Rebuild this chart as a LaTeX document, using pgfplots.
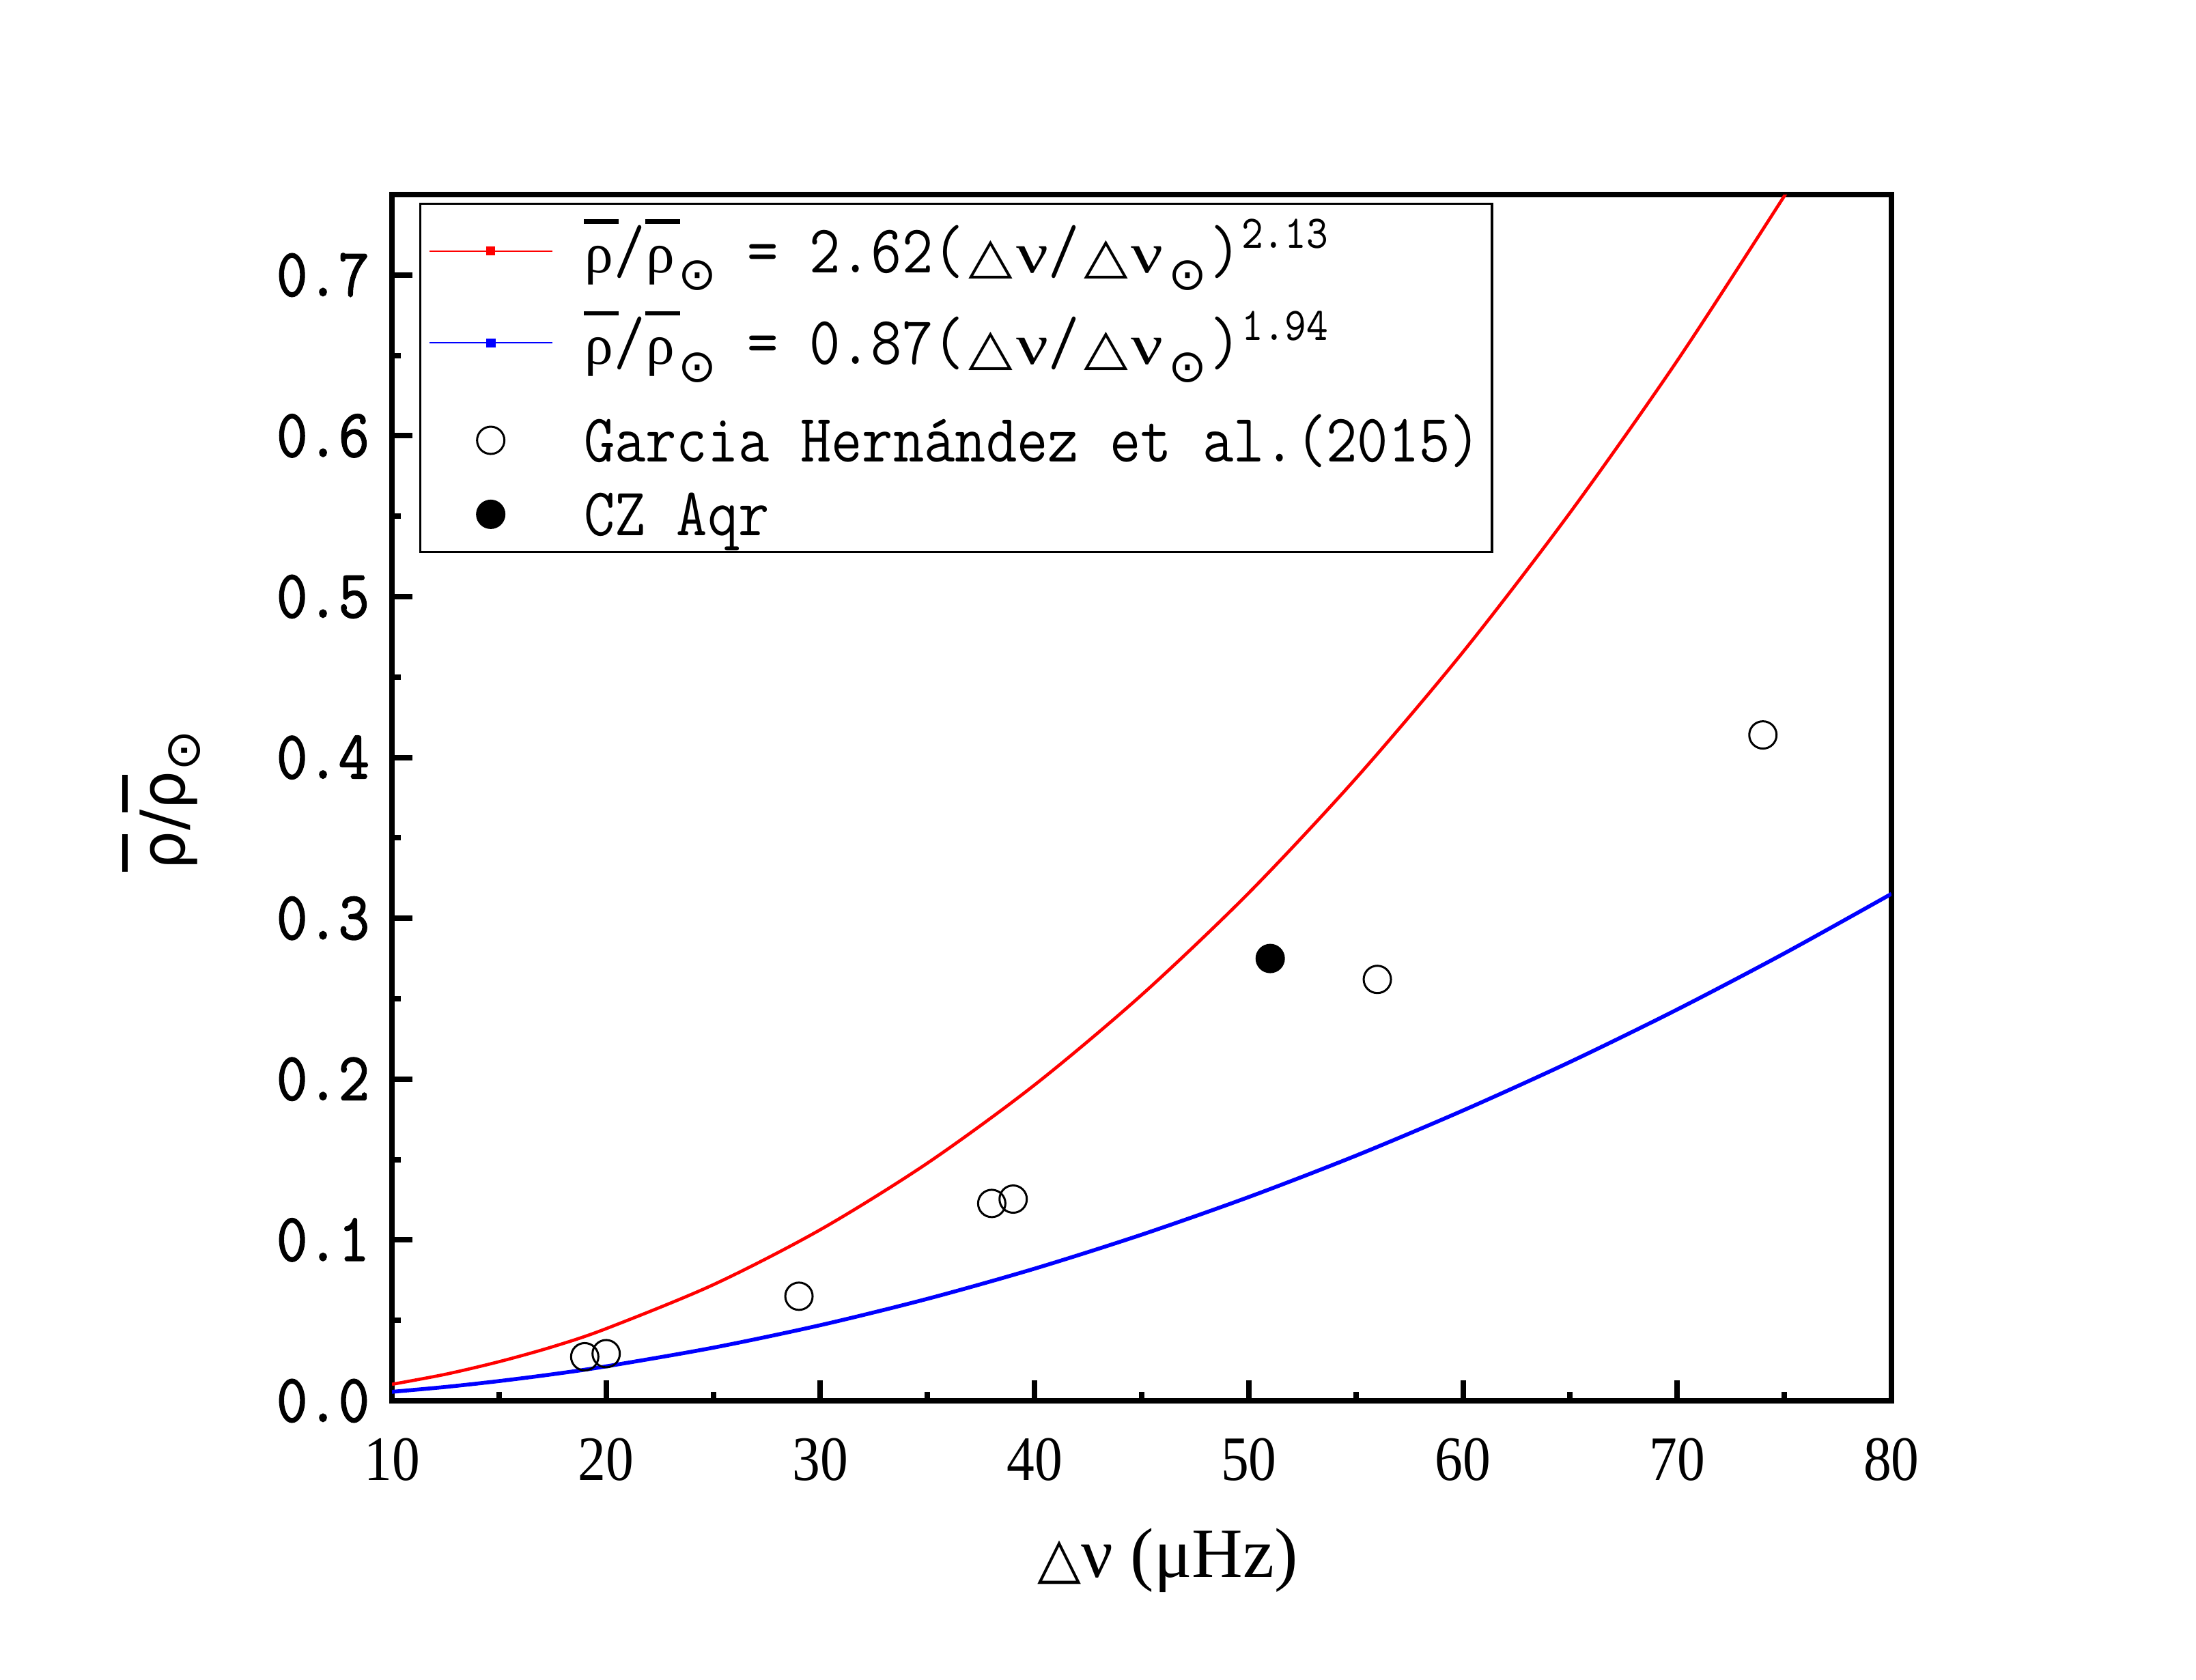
\documentclass[border=0pt]{standalone}
\usepackage{fontspec}
\setmainfont{Liberation Serif}
\newfontfamily\mono[FakeStretch=0.88]{Latin Modern Mono}
\newfontfamily\monob[FakeStretch=0.88,FakeBold=1.6]{Latin Modern Mono}
\newfontfamily\dvs{DejaVu Sans}
\newfontfamily\serx[FakeStretch=0.88]{Liberation Serif}
\newfontfamily\gkf{Liberation Serif}
\usepackage{graphicx}
\usepackage{pgfplots}
\pgfplotsset{compat=1.18}

\newcommand\grho{{\gkf\fontsize{12.5}{12}\selectfont\hspace{0.2pt}ρ\hspace{0.25pt}}}
\newcommand\gnu{{\gkf\fontsize{12.5}{12}\selectfont\hspace{0.3pt}\scalebox{1.25}[1]{ν}}}
\newcommand\lrb{\makebox[0pt][l]{\rule[10.7pt]{7.6pt}{0.95pt}}\grho}
\newcommand\lsun{\hspace{0.6pt}\raisebox{-3.8pt}{\dvs\fontsize{10}{10}\selectfont ⊙}}
\newcommand\lnsun{\hspace{1.2pt}\raisebox{-3.8pt}{\dvs\fontsize{10}{10}\selectfont ⊙}\hspace{0.8pt}}
\newcommand\ltri{\hspace{1pt}\scalebox{1.15}[1]{\dvs\fontsize{11}{11}\selectfont △}\hspace{0.4pt}}
\newcommand\lform[2]{\lrb/\lrb\lsun{} = #1(\ltri\gnu/\ltri\gnu\lnsun)\raisebox{5.3pt}{\fontsize{10.3}{10}\selectfont #2}}
\newcommand\yrb{\makebox[0pt][l]{\hspace{-0.5pt}\rule[12.5pt]{8.3pt}{1.2pt}}ρ}

\begin{document}
\begin{tikzpicture}
\useasboundingbox (0,0) rectangle (482.4pt,369.15pt);
\begin{axis}[
  at={(86.1pt,61.35pt)}, anchor=south west, scale only axis,
  width=329.4pt, height=265.05pt,
  xmin=10, xmax=80, ymin=0, ymax=0.75,
  xtick={10,20,30,40,50,60,70,80},
  xticklabels={10,20,30,40,50,60,70,80},
  ytick={0,0.1,0.2,0.3,0.4,0.5,0.6,0.7},
  yticklabels={0.0,0.1,0.2,0.3,0.4,0.5,0.6,0.7},
  minor x tick num=1, minor y tick num=1,
  tick align=inside, xtick pos=left, ytick pos=left,
  major tick length=4.5pt, minor tick length=2pt,
  tick style={line width=1.2pt, black},
  axis line style={line width=1.2pt},
  /pgf/number format/assume math mode=true,
  yticklabel style={font=\fontsize{15}{15}\monob, anchor=east, inner sep=0pt, xshift=-4.75pt},
  xticklabel style={font=\fontsize{13.9}{13.9}\serx, anchor=north, inner sep=0pt, yshift=-8.1pt},
  xlabel={{\dvs\fontsize{12.5}{12}\selectfont △}ν (μHz)},
  xlabel style={font=\fontsize{15.5}{16}\selectfont, at={(rel axis cs:0.5,0)}, anchor=center, yshift=-35.1pt, xshift=5.7pt},
  ylabel={\dvs\fontsize{13.5}{14}\selectfont \yrb/\yrb\raisebox{-3.3pt}{\fontsize{10.7}{10}\selectfont ⊙}},
  ylabel style={at={(rel axis cs:0,0.5)}, anchor=center, yshift=50.7pt, xshift=-0.5pt},
  legend style={at={(0,1)}, anchor=north west, xshift=6pt, yshift=-1.8pt,
    draw=black, line width=0.5pt, inner sep=0pt, column sep=0pt, row sep=0pt,
    font=\fontsize{15}{18}\mono,
    nodes={inner sep=0pt}, cells={anchor=base west}},
]
\addplot[red, line width=0.7pt, smooth,
  legend image code/.code={\path[draw=none,fill=none] (-1.95pt,-5.4pt) rectangle (33.95pt,15.05pt);
    \draw[red, line width=0.3pt] (0pt,4.7pt) -- (27pt,4.7pt);
    \fill[red] (12.9pt,4.1pt) rectangle (14.1pt,5.3pt);}]
coordinates {(10,0.01025) (12.5,0.01649) (15,0.02431) (17.5,0.0336) (20,0.04485) (25,0.07216) (30,0.1064)
 (35,0.1478) (40,0.1964) (45,0.2524) (50,0.3158) (55,0.3870) (60,0.4656)
 (65,0.5523) (70,0.6467) (75,0.7491) (76,0.7706)};
\addlegendentry{\makebox[199.5pt][l]{\lform{2.62}{2.13}}}
\addplot[blue, line width=0.85pt, smooth,
  legend image code/.code={\path[draw=none,fill=none] (-1.95pt,-6.0pt) rectangle (33.95pt,14.8pt);
    \draw[blue, line width=0.3pt] (0pt,4.7pt) -- (27pt,4.7pt);
    \fill[blue] (12.9pt,4.1pt) rectangle (14.1pt,5.3pt);}]
coordinates {(10,0.00558) (12.5,0.0086) (15,0.01226) (17.5,0.0165) (20,0.02141) (25,0.03302) (30,0.04702)
 (35,0.06341) (40,0.08216) (45,0.1033) (50,0.1267) (55,0.1524) (60,0.1805)
 (65,0.2107) (70,0.2433) (75,0.2782) (80,0.3152)};
\addlegendentry{\makebox[199.5pt][l]{\lform{0.87}{1.94}}}
\addplot[only marks, mark=o, mark size=3pt, black, mark options={line width=0.45pt},
  legend image code/.code={\path[draw=none,fill=none] (-1.95pt,-3.43pt) rectangle (33.95pt,15.4pt);
    \draw[black, line width=0.45pt] plot[mark=o, mark size=3pt] coordinates {(13.5pt,4.7pt)};}]
coordinates {(19,0.0274) (20,0.0293) (29,0.065) (38,0.1227) (39,0.1254) (56,0.262) (74,0.414)};
\addlegendentry{\makebox[199.5pt][l]{Garcia Hernández et al.(2015)}}
\addplot[only marks, mark=*, mark size=3pt, black, mark options={line width=0.45pt, fill=black},
  legend image code/.code={\path[draw=none,fill=none] (-1.95pt,-3.55pt) rectangle (33.95pt,12.83pt);
    \draw[black, fill=black, line width=0.45pt] plot[mark=*, mark size=3pt] coordinates {(13.5pt,4.7pt)};}]
coordinates {(51,0.275)};
\addlegendentry{\makebox[199.5pt][l]{CZ Aqr}}
\end{axis}
\end{tikzpicture}
\end{document}
